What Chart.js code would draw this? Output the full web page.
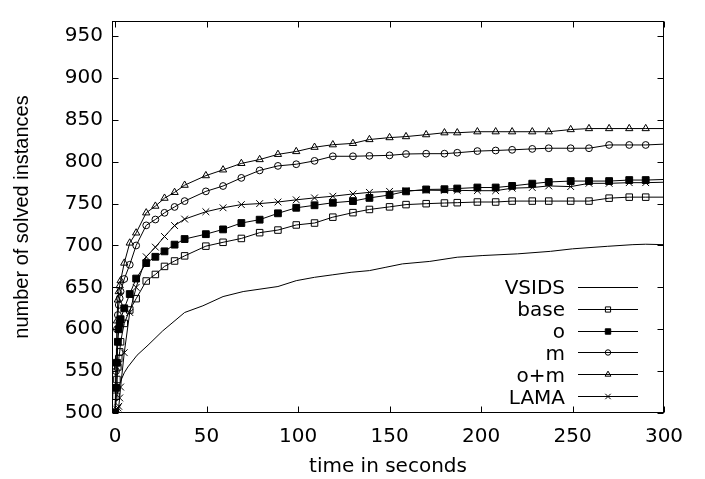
<!DOCTYPE html>
<html>
<head>
<meta charset="utf-8">
<script src="https://cdn.jsdelivr.net/npm/chart.js@4.4.1/dist/chart.umd.min.js"></script>
<style>
  html, body { margin: 0; padding: 0; background: #fff; }
  #wrap { width: 705px; height: 479px; position: relative; }
</style>
</head>
<body>
<div id="wrap"><canvas id="c"></canvas></div>
<script>
// ---- data ----
const seriesNames = ["VSIDS", "base", "o", "m", "o+m", "LAMA"];
const xTicks = [0, 50, 100, 150, 200, 250, 300];
const yTicks = [500, 550, 600, 650, 700, 750, 800, 850, 900, 950];

const vsidsTimes = [0, 0.5, 1, 2, 3, 5, 7, 12, 18, 26, 38, 48, 59, 70, 89, 99, 109, 119, 129, 139, 148, 157, 172, 187, 201, 220, 238, 250, 269, 283, 290, 300];
const vsids = [500, 515, 522, 530, 538, 548, 555, 569, 581, 598, 620, 628, 639, 645, 651, 658, 662, 665, 668, 670, 674, 678, 681, 686, 688, 690, 693, 696, 699, 701, 701.5, 701];

const times = [0, 0.5, 1, 1.5, 2, 2.5, 3, 5, 8, 11.5, 17, 22, 27, 32.5, 38, 49.6, 59, 69, 79, 89, 99, 109, 119, 130, 139, 150, 159, 170, 180, 187, 198, 208, 217, 228, 237, 249, 259, 270, 281, 290, 300];
const base = [500, 520, 540, 555, 565, 573, 585, 607, 623, 636.5, 657.6, 665.4, 675, 681.5, 687.6, 699.2, 703.8, 708.4, 715.3, 718.4, 724.5, 726.8, 733.8, 739.2, 743, 746.1, 748.8, 749.9, 750.7, 751.1, 751.9, 751.9, 753, 753, 753, 753, 753, 756.5, 757.7, 757.7, 757.7];
const o = [500, 530, 560, 585, 600, 607, 612, 625, 642, 660.5, 679, 686.5, 693, 701, 707.7, 713.5, 719.2, 726.8, 730.8, 738.4, 745, 748, 751, 753, 756.8, 760.3, 764.6, 766.9, 767.2, 768, 769.2, 769.2, 771.1, 773.8, 775.8, 776.9, 776.9, 776.9, 778.1, 778.1, 778.8];
const m = [500, 550, 600, 617, 629, 637, 645, 660, 677, 700, 724, 731, 739, 746, 753, 764.6, 771, 780.7, 789.6, 795, 797, 801, 806.5, 806.5, 807, 807.6, 809.2, 809.6, 809.6, 810.7, 812.7, 813.4, 814.2, 815.3, 816.1, 816.1, 816.1, 820, 820, 820, 821];
const om = [500, 560, 610, 635, 645, 652, 658, 679, 703, 715, 739, 747, 756.5, 763.4, 772, 783.4, 790.3, 798, 802.6, 808.8, 812.2, 817.3, 820.3, 821.9, 826.5, 828.8, 830, 832.3, 834.6, 834.6, 835.8, 835.8, 835.8, 835.8, 835.8, 838.4, 839.6, 839.6, 839.6, 839.6, 839.6];
const lama = [500, 502, 504, 506, 508, 518, 531, 572, 620, 650, 686.5, 698, 710.7, 723.8, 731.5, 740.3, 745, 748.8, 750, 751.9, 754.5, 756.8, 758.8, 761.5, 763.4, 764.6, 765.4, 766, 765.8, 765.8, 765.4, 765.4, 768.4, 769.2, 771.1, 770.3, 774.2, 774.2, 775, 775, 775.5];

const xMin = -1.7, xMax = 300, yMin = 500, yMax = 968;

// ---- build datasets ----
function pts(xs, ys) { return xs.map((x, i) => ({ x: x, y: ys[i] })); }
const NOFILL = 'rgba(0,0,0,0)';
function markerRadius(r) {
  return (ctx) => (ctx.dataset && ctx.dataIndex === ctx.dataset.data.length - 1) ? 0 : r;
}
function mk(label, xs, ys, style, r, filled) {
  return {
    label: label,
    data: pts(xs, ys),
    borderColor: '#000',
    borderWidth: 1,
    pointStyle: style,
    pointRadius: style ? markerRadius(r) : 0,
    pointHoverRadius: 0,
    pointBorderColor: '#000',
    pointBorderWidth: 1,
    pointBackgroundColor: filled ? '#000' : NOFILL,
    backgroundColor: filled ? '#000' : NOFILL,
    legendRadius: r * 0.8,
    tension: 0,
    fill: false
  };
}
const datasets = [
  mk(seriesNames[0], vsidsTimes, vsids, false, 0, false),
  mk(seriesNames[1], times, base, 'rect', 4.6, false),
  mk(seriesNames[2], times, o, 'rect', 4.8, true),
  mk(seriesNames[3], times, m, 'circle', 3.4, false),
  mk(seriesNames[4], times, om, 'triangle', 4.2, false),
  mk(seriesNames[5], times, lama, 'crossRot', 4.8, false)
];

const FONT = "'DejaVu Sans', sans-serif";

// frame with inward mirrored ticks
const framePlugin = {
  id: 'frame',
  afterDatasetsDraw(chart) {
    const { ctx, chartArea: a, scales: { x, y } } = chart;
    ctx.save();
    ctx.strokeStyle = '#000';
    ctx.lineWidth = 1;
    const L = Math.round(a.left) + 0.5, R = Math.round(a.right) - 0.5;
    const T = Math.round(a.top) + 0.5, B = Math.round(a.bottom) - 0.5;
    ctx.strokeRect(L, T, R - L, B - T);
    ctx.beginPath();
    xTicks.forEach(v => {
      const px = Math.round(x.getPixelForValue(v)) + 0.5;
      ctx.moveTo(px, B); ctx.lineTo(px, B - 6);
      ctx.moveTo(px, T); ctx.lineTo(px, T + 6);
    });
    yTicks.forEach(v => {
      const py = Math.round(y.getPixelForValue(v)) + 0.5;
      ctx.moveTo(L, py); ctx.lineTo(L + 6, py);
      ctx.moveTo(R, py); ctx.lineTo(R - 6, py);
    });
    ctx.stroke();
    ctx.restore();
  }
};

// gnuplot-style legend inside the plot: label, then line sample with marker
const legendPlugin = {
  id: 'gpLegend',
  afterDraw(chart) {
    const { ctx } = chart;
    const textRight = 565, lineL = 578, lineR = 638, startY = 286.7, step = 21.9;
    ctx.save();
    ctx.font = "20px " + FONT;
    ctx.fillStyle = '#000';
    ctx.textAlign = 'right';
    ctx.textBaseline = 'alphabetic';
    chart.data.datasets.forEach((ds, i) => {
      const yy = startY + i * step;
      ctx.fillText(ds.label, textRight, yy + 7.3);
      const ly = Math.round(yy) + 0.5;
      ctx.strokeStyle = '#000';
      ctx.lineWidth = 1;
      ctx.beginPath();
      ctx.moveTo(lineL, ly); ctx.lineTo(lineR, ly);
      ctx.stroke();
      if (ds.pointStyle) {
        ctx.fillStyle = ds.pointBackgroundColor;
        ctx.strokeStyle = '#000';
        ctx.lineWidth = 1;
        Chart.helpers.drawPoint(ctx, { pointStyle: ds.pointStyle, radius: ds.legendRadius, rotation: 0, borderWidth: 1 }, (lineL + lineR) / 2, ly);
        ctx.fillStyle = '#000';
      }
    });
    ctx.restore();
  }
};

Chart.defaults.color = '#000';
Chart.defaults.font.family = FONT;

new Chart(document.getElementById('c'), {
  type: 'line',
  data: { datasets: datasets },
  plugins: [framePlugin, legendPlugin],
  options: {
    responsive: true,
    maintainAspectRatio: false,
    animation: false,
    events: [],
    layout: { padding: { top: 7, right: 41, bottom: 0, left: 0 } },
    plugins: { legend: { display: false }, tooltip: { enabled: false } },
    scales: {
      x: {
        type: 'linear',
        min: xMin, max: xMax,
        afterBuildTicks: (s) => { s.ticks = xTicks.map(v => ({ value: v })); },
        afterFit: (s) => { s.height = 66; },
        grid: { display: false, drawTicks: false },
        border: { display: false },
        ticks: { padding: 12, maxRotation: 0, autoSkip: false, font: { size: 20, family: FONT }, color: '#000' },
        title: { display: true, text: 'time in seconds', font: { size: 20, family: FONT }, color: '#000', padding: { top: 0, bottom: 0 } }
      },
      y: {
        type: 'linear',
        min: yMin, max: yMax,
        afterBuildTicks: (s) => { s.ticks = yTicks.map(v => ({ value: v })); },
        afterFit: (s) => { s.width = 112; },
        grid: { display: false, drawTicks: false },
        border: { display: false },
        ticks: { padding: 9, autoSkip: false, font: { size: 20, family: FONT }, color: '#000' },
        title: { display: true, text: 'number of solved instances', font: { size: 20, family: "'Liberation Sans', Arial, sans-serif" }, color: '#000', padding: { top: 10, bottom: 0 } }
      }
    }
  }
});
</script>
</body>
</html>
